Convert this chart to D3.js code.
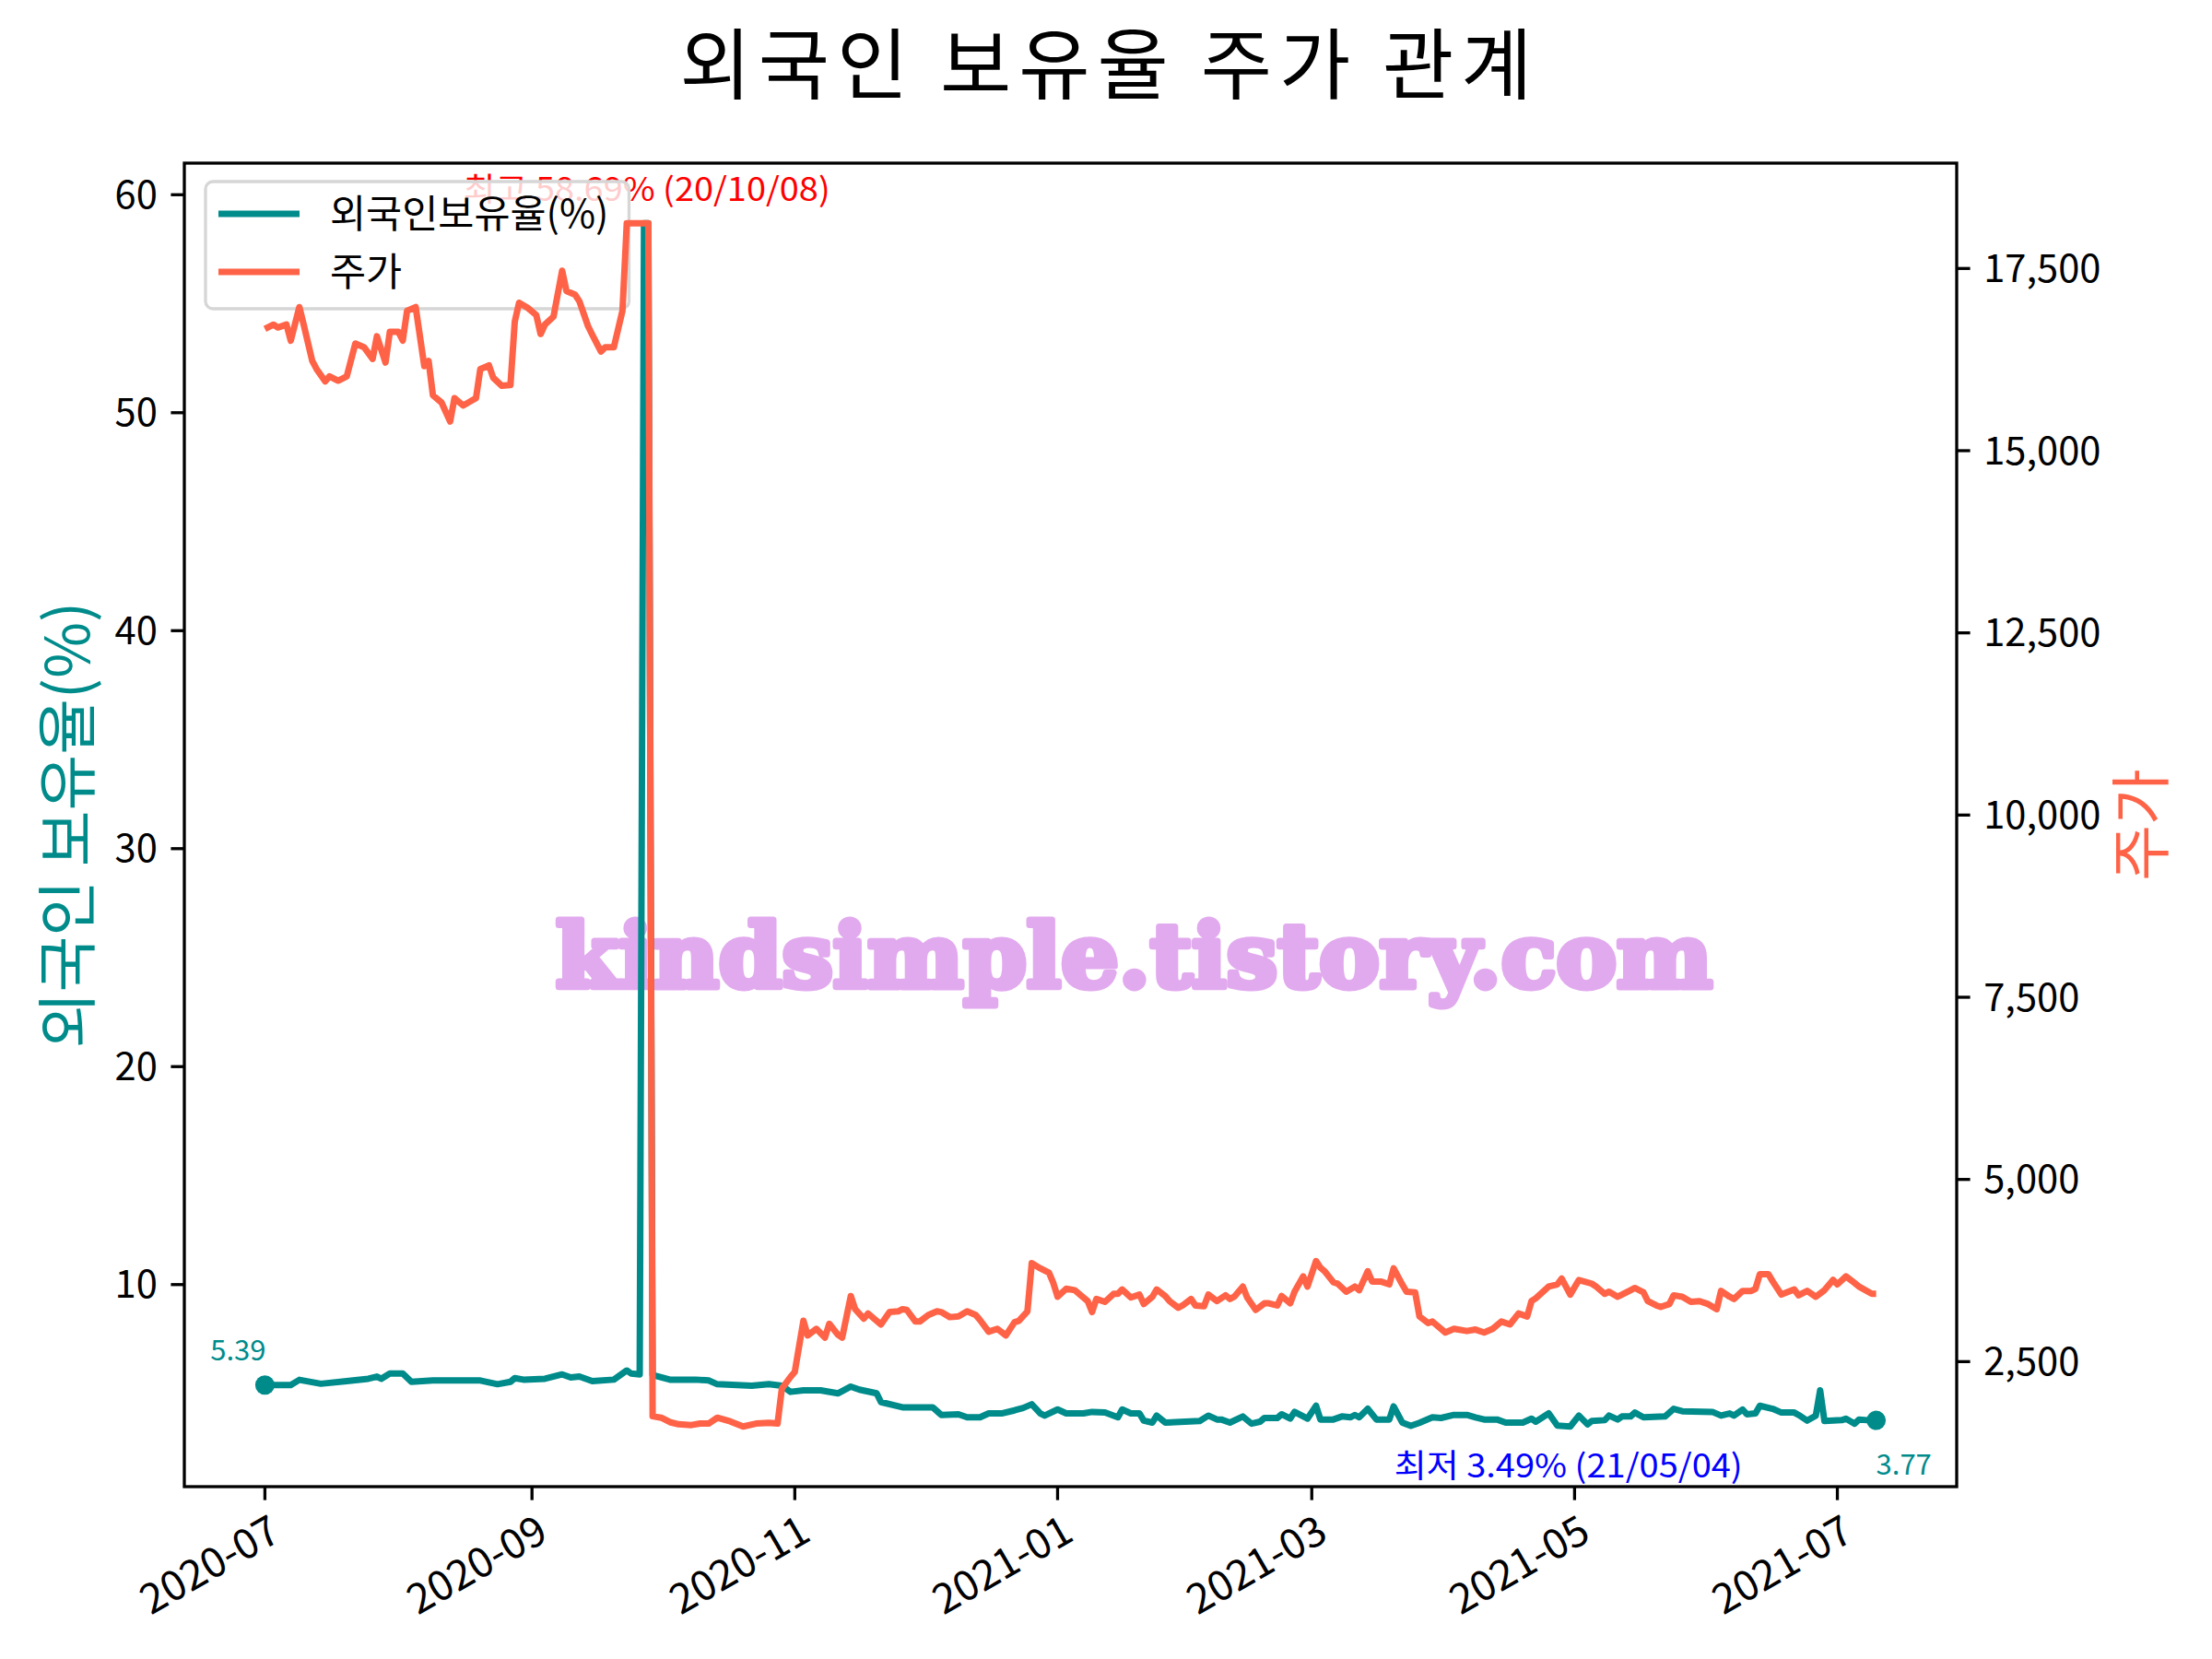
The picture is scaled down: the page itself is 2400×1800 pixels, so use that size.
<!DOCTYPE html>
<html>
<head>
<meta charset="utf-8">
<script src="https://cdn.jsdelivr.net/npm/d3@7"></script>
<style>
  body { margin: 0; background: #fff; }
  svg { display: block; font-family: "Noto Sans CJK KR", "Noto Sans", sans-serif; }
</style>
</head>
<body>
<svg id="chart" width="2400" height="1800"></svg>
<script>
// 주가 (right axis)
const priceDates = [
  "2020-07-01","2020-07-03","2020-07-04","2020-07-06","2020-07-07","2020-07-09","2020-07-10","2020-07-12","2020-07-13","2020-07-15",
  "2020-07-16","2020-07-18","2020-07-20","2020-07-22","2020-07-24","2020-07-26","2020-07-27","2020-07-29","2020-07-30","2020-08-01",
  "2020-08-02","2020-08-03","2020-08-05","2020-08-07","2020-08-08","2020-08-09","2020-08-11","2020-08-13","2020-08-14","2020-08-16",
  "2020-08-19","2020-08-20","2020-08-22","2020-08-23","2020-08-25","2020-08-27","2020-08-28","2020-08-29","2020-08-31","2020-09-02",
  "2020-09-03","2020-09-04","2020-09-06","2020-09-08","2020-09-09","2020-09-11","2020-09-12","2020-09-14","2020-09-15","2020-09-17",
  "2020-09-18","2020-09-20","2020-09-22","2020-09-23","2020-09-28","2020-09-29","2020-10-01","2020-10-03","2020-10-05","2020-10-08",
  "2020-10-10","2020-10-12","2020-10-14","2020-10-17","2020-10-20","2020-10-23","2020-10-26","2020-10-28","2020-10-29","2020-10-31",
  "2020-11-01","2020-11-03","2020-11-04","2020-11-06","2020-11-08","2020-11-09","2020-11-11","2020-11-12","2020-11-14","2020-11-15",
  "2020-11-17","2020-11-18","2020-11-20","2020-11-21","2020-11-23","2020-11-25","2020-11-26","2020-11-27","2020-11-29","2020-11-30",
  "2020-12-02","2020-12-04","2020-12-05","2020-12-07","2020-12-09","2020-12-11","2020-12-13","2020-12-14","2020-12-16","2020-12-18",
  "2020-12-20","2020-12-22","2020-12-23","2020-12-25","2020-12-26","2020-12-28","2020-12-30","2020-12-31","2021-01-01","2021-01-03",
  "2021-01-05","2021-01-06","2021-01-08","2021-01-09","2021-01-10","2021-01-12","2021-01-14","2021-01-15","2021-01-16","2021-01-18",
  "2021-01-20","2021-01-21","2021-01-23","2021-01-24","2021-01-26","2021-01-27","2021-01-29","2021-01-30","2021-02-01","2021-02-02",
  "2021-02-04","2021-02-05","2021-02-07","2021-02-09","2021-02-10","2021-02-11","2021-02-13","2021-02-14","2021-02-16","2021-02-18",
  "2021-02-19","2021-02-21","2021-02-22","2021-02-24","2021-02-25","2021-02-27","2021-02-28","2021-03-02","2021-03-03","2021-03-04",
  "2021-03-06","2021-03-07","2021-03-09","2021-03-11","2021-03-12","2021-03-14","2021-03-15","2021-03-17","2021-03-19","2021-03-20",
  "2021-03-22","2021-03-23","2021-03-25","2021-03-26","2021-03-28","2021-03-29","2021-04-01","2021-04-03","2021-04-06","2021-04-08",
  "2021-04-10","2021-04-12","2021-04-14","2021-04-16","2021-04-18","2021-04-20","2021-04-21","2021-04-22","2021-04-25","2021-04-27",
  "2021-04-28","2021-04-30","2021-05-02","2021-05-05","2021-05-06","2021-05-08","2021-05-09","2021-05-11","2021-05-12","2021-05-14",
  "2021-05-15","2021-05-17","2021-05-18","2021-05-20","2021-05-21","2021-05-23","2021-05-24","2021-05-26","2021-05-28","2021-05-30",
  "2021-06-01","2021-06-03","2021-06-04","2021-06-06","2021-06-07","2021-06-09","2021-06-11","2021-06-12","2021-06-13","2021-06-15",
  "2021-06-16","2021-06-18","2021-06-21","2021-06-22","2021-06-24","2021-06-26","2021-06-28","2021-06-30","2021-07-01","2021-07-03",
  "2021-07-05","2021-07-06","2021-07-09","2021-07-10"
];
const priceValues = [
  16670,16730,16690,16730,16510,16970,16730,16230,16120,15950,
  16020,15960,16020,16470,16420,16260,16570,16210,16630,16630,
  16510,16920,16970,16160,16230,15760,15660,15400,15720,15620,
  15720,16120,16170,16000,15890,15900,16770,17030,16960,16860,
  16600,16730,16840,17470,17190,17140,17050,16710,16590,16360,
  16420,16420,16920,18120,18120,1750,1730,1670,1640,1630,
  1650,1650,1730,1680,1610,1650,1660,1650,2130,2290,
  2360,3060,2860,2950,2830,3020,2870,2830,3400,3220,
  3090,3160,3060,3010,3180,3190,3220,3210,3050,3050,
  3140,3190,3180,3110,3120,3190,3140,3070,2910,2950,
  2860,3040,3060,3190,3850,3780,3720,3580,3390,3500,
  3480,3430,3330,3180,3360,3320,3430,3430,3490,3380,
  3420,3290,3390,3490,3400,3330,3240,3270,3360,3270,
  3260,3420,3330,3410,3360,3390,3530,3380,3210,3300,
  3300,3270,3400,3300,3460,3670,3530,3880,3790,3740,
  3590,3570,3460,3530,3480,3740,3600,3600,3560,3780,
  3560,3460,3450,3120,3030,3050,2900,2950,2920,2940,
  2900,2950,3050,3010,3160,3120,3330,3370,3530,3560,
  3640,3420,3620,3570,3530,3430,3460,3390,3420,3480,
  3510,3450,3330,3270,3250,3290,3410,3390,3320,3330,
  3290,3220,3470,3390,3360,3470,3470,3500,3700,3700,
  3600,3420,3490,3410,3470,3390,3480,3620,3560,3670,
  3580,3530,3430,3430
];

// 외국인보유율(%) (left axis)
const holdDates = [
  "2020-07-01","2020-07-07","2020-07-09","2020-07-14","2020-07-20","2020-07-25","2020-07-27","2020-07-28","2020-07-30","2020-08-02",
  "2020-08-04","2020-08-09","2020-08-20","2020-08-24","2020-08-27","2020-08-28","2020-08-30","2020-09-04","2020-09-08","2020-09-10",
  "2020-09-12","2020-09-15","2020-09-20","2020-09-23","2020-09-24","2020-09-26","2020-09-27","2020-09-28","2020-09-29","2020-10-03",
  "2020-10-09","2020-10-12","2020-10-14","2020-10-22","2020-10-26","2020-10-29","2020-10-31","2020-11-03","2020-11-07","2020-11-11",
  "2020-11-14","2020-11-16","2020-11-20","2020-11-21","2020-11-26","2020-12-03","2020-12-05","2020-12-09","2020-12-11","2020-12-14",
  "2020-12-16","2020-12-19","2020-12-22","2020-12-24","2020-12-26","2020-12-28","2020-12-29","2021-01-01","2021-01-03","2021-01-07",
  "2021-01-09","2021-01-12","2021-01-15","2021-01-16","2021-01-18","2021-01-20","2021-01-21","2021-01-23","2021-01-24","2021-01-26",
  "2021-02-03","2021-02-05","2021-02-07","2021-02-08","2021-02-10","2021-02-13","2021-02-15","2021-02-17","2021-02-18","2021-02-21",
  "2021-02-22","2021-02-24","2021-02-25","2021-02-28","2021-03-02","2021-03-03","2021-03-06","2021-03-08","2021-03-10","2021-03-11",
  "2021-03-12","2021-03-14","2021-03-16","2021-03-19","2021-03-20","2021-03-22","2021-03-24","2021-03-26","2021-03-29","2021-03-31",
  "2021-04-03","2021-04-06","2021-04-08","2021-04-10","2021-04-13","2021-04-15","2021-04-19","2021-04-21","2021-04-22","2021-04-25",
  "2021-04-27","2021-04-30","2021-05-02","2021-05-04","2021-05-05","2021-05-08","2021-05-09","2021-05-11","2021-05-12","2021-05-14",
  "2021-05-15","2021-05-17","2021-05-22","2021-05-24","2021-05-26","2021-06-02","2021-06-04","2021-06-06","2021-06-07","2021-06-09",
  "2021-06-10","2021-06-12","2021-06-13","2021-06-16","2021-06-18","2021-06-21","2021-06-22","2021-06-24","2021-06-26","2021-06-27",
  "2021-06-28","2021-07-02","2021-07-03","2021-07-05","2021-07-06","2021-07-08","2021-07-10"
];
const holdValues = [
  5.39,5.39,5.63,5.45,5.57,5.68,5.78,5.68,5.92,5.92,
  5.54,5.60,5.60,5.43,5.54,5.71,5.64,5.68,5.88,5.74,
  5.78,5.57,5.64,6.06,5.92,5.88,58.69,58.69,5.85,5.64,
  5.64,5.60,5.43,5.36,5.43,5.36,5.08,5.15,5.15,5.01,
  5.32,5.18,5.01,4.61,4.37,4.37,4.02,4.05,3.91,3.91,
  4.09,4.09,4.23,4.34,4.51,4.09,3.99,4.27,4.09,4.09,
  4.16,4.13,3.91,4.27,4.09,4.09,3.76,3.67,3.99,3.67,
  3.74,3.99,3.81,3.81,3.67,3.95,3.62,3.71,3.88,3.88,
  4.05,3.85,4.16,3.85,4.44,3.81,3.81,3.95,3.91,4.02,
  3.91,4.30,3.81,3.81,4.41,3.67,3.52,3.66,3.91,3.88,
  4.02,4.02,3.91,3.81,3.81,3.67,3.67,3.85,3.71,4.09,
  3.53,3.49,3.99,3.59,3.74,3.78,3.99,3.81,3.95,3.95,
  4.13,3.91,3.95,4.30,4.19,4.16,3.99,4.09,3.99,4.27,
  4.05,4.09,4.44,4.30,4.13,4.13,4.02,3.76,3.99,5.15,
  3.74,3.78,3.85,3.62,3.81,3.78,3.77
];

const holdTicks = [10, 20, 30, 40, 50, 60];
const priceTicks = [2500, 5000, 7500, 10000, 12500, 15000, 17500];
const seriesNames = ["외국인보유율(%)", "주가"];
const titleText = "외국인 보유율 주가 관계";
const leftLabel = "외국인 보유율(%)";
const rightLabel = "주가";
const maxLabel = "최고 58.69% (20/10/08)";
const minLabel = "최저 3.49% (21/05/04)";
const watermark = "kindsimple.tistory.com";

const holdColor = "#008b8b";
const priceColor = "#ff6347";

const svg = d3.select("#chart");
const parse = d3.timeParse("%Y-%m-%d");
const hold = holdDates.map((d, i) => ({ date: parse(d), value: holdValues[i] }));
const price = priceDates.map((d, i) => ({ date: parse(d), value: priceValues[i] }));

const box = { left: 200, right: 2123, top: 177, bottom: 1613 };

// matplotlib-style 5% margins
function padded(ext) {
  const s = ext[1] - ext[0];
  return [ext[0] - s * 0.05, ext[1] + s * 0.05];
}

const xd = padded(d3.extent(hold, d => +d.date));
const x = d3.scaleTime()
  .domain([new Date(xd[0]), new Date(xd[1])])
  .range([box.left, box.right]);
const yL = d3.scaleLinear()
  .domain(padded(d3.extent(hold, d => d.value)))
  .range([box.bottom, box.top]);
const yR = d3.scaleLinear()
  .domain(padded(d3.extent(price, d => d.value)))
  .range([box.bottom, box.top]);

const tickFont = 41.7;
const tickLen = 14.6;

// title
svg.append("text")
  .attr("x", 1204).attr("y", 101)
  .attr("text-anchor", "middle")
  .attr("font-size", 84)
  .attr("letter-spacing", 8)
  .attr("fill", "#000")
  .text(titleText);

// watermark (under the lines)
svg.append("text")
  .attr("x", 603).attr("y", 1071)
  .attr("textLength", 1255)
  .attr("lengthAdjust", "spacingAndGlyphs")
  .attr("font-family", "'DejaVu Serif', serif")
  .attr("font-weight", "bold")
  .attr("font-size", 96)
  .attr("fill", "#e2aaee")
  .attr("stroke", "#e2aaee")
  .attr("stroke-width", 7)
  .attr("stroke-linejoin", "round")
  .text(watermark);

// x axis ticks
const xTicks = x.ticks(d3.timeMonth.every(2));
const fmt = d3.timeFormat("%Y-%m");
const xg = svg.append("g");
xTicks.forEach(t => {
  const tx = x(t);
  xg.append("line")
    .attr("x1", tx).attr("x2", tx)
    .attr("y1", box.bottom).attr("y2", box.bottom + tickLen)
    .attr("stroke", "#000").attr("stroke-width", 3.3);
  xg.append("text")
    .attr("transform", `translate(${tx + 2},${box.bottom + tickLen + 12}) rotate(-30)`)
    .attr("text-anchor", "end")
    .attr("dy", "0.78em")
    .attr("font-size", 45)
    .text(fmt(t));
});

// left axis
const lg = svg.append("g");
holdTicks.forEach(v => {
  const ty = yL(v);
  lg.append("line")
    .attr("x1", box.left - tickLen).attr("x2", box.left)
    .attr("y1", ty).attr("y2", ty)
    .attr("stroke", "#000").attr("stroke-width", 3.3);
  lg.append("text")
    .attr("x", box.left - tickLen - 14.6).attr("y", ty)
    .attr("dy", "0.35em")
    .attr("text-anchor", "end")
    .attr("font-size", tickFont)
    .text(v);
});
svg.append("text")
  .attr("transform", `translate(97,${(box.top + box.bottom) / 2}) rotate(-90)`)
  .attr("text-anchor", "middle")
  .attr("font-size", 66)
  .attr("fill", holdColor)
  .text(leftLabel);

// right axis
const rg = svg.append("g");
const commas = d3.format(",");
priceTicks.forEach(v => {
  const ty = yR(v);
  rg.append("line")
    .attr("x1", box.right).attr("x2", box.right + tickLen)
    .attr("y1", ty).attr("y2", ty)
    .attr("stroke", "#000").attr("stroke-width", 3.3);
  rg.append("text")
    .attr("x", box.right + tickLen + 14.6).attr("y", ty)
    .attr("dy", "0.35em")
    .attr("font-size", tickFont)
    .text(commas(v));
});
svg.append("text")
  .attr("transform", `translate(2347,${(box.top + box.bottom) / 2}) rotate(-90)`)
  .attr("text-anchor", "middle")
  .attr("font-size", 66)
  .attr("fill", priceColor)
  .text(rightLabel);

// holding ratio line
const lineL = d3.line().x(d => x(d.date)).y(d => yL(d.value));
svg.append("path")
  .datum(hold)
  .attr("d", lineL)
  .attr("fill", "none")
  .attr("stroke", holdColor)
  .attr("stroke-width", 7)
  .attr("stroke-linejoin", "round");

const first = hold[0];
const last = hold[hold.length - 1];
svg.selectAll(".endDot")
  .data([first, last])
  .join("circle")
  .attr("class", "endDot")
  .attr("cx", d => x(d.date))
  .attr("cy", d => yL(d.value))
  .attr("r", 10.5)
  .attr("fill", holdColor);

svg.append("text")
  .attr("x", x(first.date) + 1).attr("y", yL(first.value) - 27)
  .attr("text-anchor", "end")
  .attr("font-size", 31)
  .attr("fill", holdColor)
  .text(first.value.toFixed(2));
svg.append("text")
  .attr("x", x(last.date)).attr("y", yL(last.value) + 59)
  .attr("font-size", 31)
  .attr("fill", holdColor)
  .text(last.value.toFixed(2));

const maxPt = hold[d3.maxIndex(hold, d => d.value)];
const minPt = hold[d3.minIndex(hold, d => d.value)];
svg.append("text")
  .attr("x", x(maxPt.date) - 196).attr("y", yL(maxPt.value) - 24)
  .attr("textLength", 398)
  .attr("lengthAdjust", "spacingAndGlyphs")
  .attr("font-size", 35)
  .attr("fill", "red")
  .text(maxLabel);
svg.append("text")
  .attr("x", x(minPt.date) - 191).attr("y", yL(minPt.value) + 55)
  .attr("textLength", 378)
  .attr("lengthAdjust", "spacingAndGlyphs")
  .attr("font-size", 35)
  .attr("fill", "blue")
  .text(minLabel);

// legend (belongs to left axes, drawn before the price line)
const leg = svg.append("g");
const legFrame = leg.append("rect")
  .attr("x", 223).attr("y", 197)
  .attr("height", 138)
  .attr("rx", 8)
  .attr("fill", "#fff").attr("fill-opacity", 0.8)
  .attr("stroke", "#d6d6d6").attr("stroke-width", 3.3);
let maxW = 0;
seriesNames.forEach((name, i) => {
  const ly = 232 + i * 63;
  leg.append("line")
    .attr("x1", 237).attr("x2", 325)
    .attr("y1", ly).attr("y2", ly)
    .attr("stroke", i === 0 ? holdColor : priceColor)
    .attr("stroke-width", 7);
  const t = leg.append("text")
    .attr("x", 358).attr("y", ly)
    .attr("dy", "0.35em")
    .attr("font-size", 42.5)
    .text(name);
  maxW = Math.max(maxW, t.node().getComputedTextLength());
});
legFrame.attr("width", 358 + maxW + 22 - 223);

// price line (twin axes, on top)
const lineR = d3.line().x(d => x(d.date)).y(d => yR(d.value));
svg.append("path")
  .datum(price)
  .attr("d", lineR)
  .attr("fill", "none")
  .attr("stroke", priceColor)
  .attr("stroke-width", 7)
  .attr("stroke-linejoin", "round");

// frame
svg.append("rect")
  .attr("x", box.left).attr("y", box.top)
  .attr("width", box.right - box.left)
  .attr("height", box.bottom - box.top)
  .attr("fill", "none")
  .attr("stroke", "#000")
  .attr("stroke-width", 3.3);
</script>
</body>
</html>
